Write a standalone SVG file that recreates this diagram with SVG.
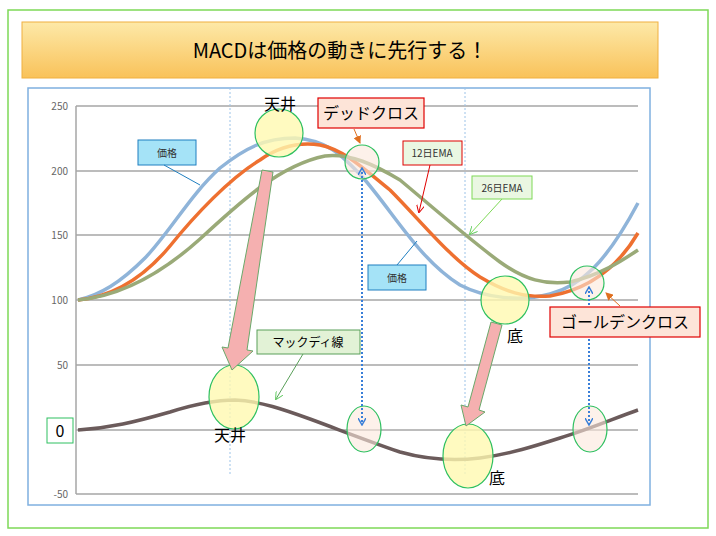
<svg xmlns="http://www.w3.org/2000/svg" width="716" height="536" viewBox="0 0 716 536">
<defs>
<linearGradient id="tg" x1="0" y1="0" x2="0" y2="1"><stop offset="0" stop-color="#fde9a8"/><stop offset="1" stop-color="#f9c25a"/></linearGradient>
<marker id="ar" markerWidth="8" markerHeight="8" refX="7" refY="4" orient="auto" markerUnits="userSpaceOnUse"><path d="M0,0 L8,4 L0,8 z" fill="#e07020"/></marker>
<marker id="arr" markerWidth="8" markerHeight="8" refX="7" refY="4" orient="auto" markerUnits="userSpaceOnUse"><path d="M0,0 L8,4 L0,8" fill="none" stroke="#e00000"/></marker>
<marker id="arg" markerWidth="8" markerHeight="8" refX="7" refY="4" orient="auto" markerUnits="userSpaceOnUse"><path d="M0,0 L8,4 L0,8" fill="none" stroke="#6c6"/></marker>
<marker id="arb" markerWidth="8" markerHeight="8" refX="7" refY="4" orient="auto-start-reverse" markerUnits="userSpaceOnUse"><path d="M0,0 L7,4 L0,8" fill="none" stroke="#3a7fd8" stroke-width="1.5"/></marker>
</defs>
<style>
text{font-family:"Noto Sans CJK JP","Liberation Sans",sans-serif}
.grid{stroke:#a6a6a6;stroke-width:1.5}
.ax{font-size:10px;fill:#666;text-anchor:end}
.big{font-size:16px;fill:#000}
.sm{font-size:10px;fill:#333;text-anchor:middle}
.curve{fill:none;stroke-width:3.5;stroke-linejoin:round}
.yc{fill:#fff9b0;fill-opacity:.8;stroke:#2ec060;stroke-width:1.2}
.pc{fill:#fbe8dc;fill-opacity:.6;stroke:#2ec060;stroke-width:1.2}
.thin{stroke:#9cc3e8;stroke-width:1;stroke-dasharray:2,2}
.bd{stroke:#3a7fd8;stroke-width:2;stroke-dasharray:2,2}
.pa{fill:#f5b0b0;stroke:#6aa86a;stroke-width:1}
</style>
<rect x="8" y="10" width="700" height="518" fill="#fff" stroke="#7ed957" stroke-width="1.5"/>
<g id="title"><rect x="22" y="22" width="636" height="56" fill="url(#tg)" stroke="#f0b040"/><text x="340" y="58" font-size="20" text-anchor="middle">MACDは価格の動きに先行する！</text></g>
<rect x="28" y="88" width="622" height="417" fill="#fff" stroke="#7fb0e0" stroke-width="1.5"/>
<g id="axes">
<line class="grid" x1="76" y1="106" x2="638" y2="106"/><line class="grid" x1="76" y1="171" x2="638" y2="171"/>
<line class="grid" x1="76" y1="235" x2="638" y2="235"/><line class="grid" x1="76" y1="300" x2="638" y2="300"/>
<line class="grid" x1="76" y1="365" x2="638" y2="365"/><line class="grid" x1="76" y1="430" x2="638" y2="430"/>
<line class="grid" x1="76" y1="494" x2="638" y2="494"/><line class="grid" x1="76" y1="106" x2="76" y2="494"/>
<text class="ax" x="68" y="110">250</text><text class="ax" x="68" y="175">200</text><text class="ax" x="68" y="239">150</text>
<text class="ax" x="68" y="304">100</text><text class="ax" x="68" y="369">50</text><text class="ax" x="68" y="498">-50</text>
</g>
<g id="connectors">
<line class="thin" x1="230" y1="88" x2="230" y2="475"/><line class="thin" x1="465" y1="88" x2="465" y2="475"/>
</g>
<g id="curves">
<path class="curve" stroke="#8fb4d9" d="M78,300 C100,295 120,283 145,258 C170,232 190,195 220,168 C245,148 265,138 295,138 C325,140 340,152 365,180 C395,215 420,260 460,285 C485,298 520,302 550,294 C580,286 605,265 638,203"/>
<path class="curve" stroke="#ee7030" d="M78,300 C110,297 140,282 170,246 C195,215 230,178 260,160 C280,146 300,142 320,145 C345,150 365,170 390,190 C420,220 450,258 480,277 C505,292 525,298 550,296 C585,290 615,272 638,233"/>
<path class="curve" stroke="#9aaa78" d="M78,300 C120,296 160,275 200,239 C240,202 280,165 325,156 C350,153 375,165 400,180 C430,205 470,240 500,262 C525,280 545,285 570,282 C600,275 620,262 638,250"/>
<path class="curve" stroke="#6b5b5b" d="M78,430 C110,428 135,422 170,412 C195,404 215,400 235,400 C260,401 285,410 310,419 C340,430 365,440 400,452 C425,459 455,461 480,458 C510,454 535,446 560,438 C590,429 615,418 638,410"/>
</g>
<g id="circles">
<circle class="yc" cx="279" cy="133" r="24"/><circle class="pc" cx="362" cy="162" r="17"/>
<circle class="yc" cx="505" cy="300" r="24"/><circle class="pc" cx="587" cy="283" r="17"/>
<ellipse class="yc" cx="234" cy="397" rx="25" ry="32"/><ellipse class="pc" cx="364" cy="429" rx="17" ry="23"/>
<ellipse class="yc" cx="468" cy="456" rx="25" ry="32"/><ellipse class="pc" cx="590" cy="429" rx="17" ry="23"/>
</g>
<g id="blue-arrows">
<line class="bd" x1="362" y1="168" x2="362" y2="425" marker-start="url(#arb)" marker-end="url(#arb)"/>
<line class="bd" x1="589" y1="287" x2="589" y2="425" marker-start="url(#arb)" marker-end="url(#arb)"/>
</g>
<g id="pink-arrows">
<polygon class="pa" points="262,170 273,172 247,350 253,351 232,370 222,347 228,348"/>
<polygon class="pa" points="491,322 502,325 479,410 485,412 466,426 461,405 468,407"/>
</g>
<g id="labels">
<text class="big" x="280" y="110" text-anchor="middle">天井</text>
<g id="dead"><rect x="318" y="98" width="106" height="30" fill="#fde4d8" stroke="#e00000" stroke-width="1.2"/><text x="371" y="119" font-size="16" text-anchor="middle">デッドクロス</text><line x1="354" y1="129" x2="360" y2="143" stroke="#e07020" marker-end="url(#ar)"/></g>
<g id="ema12"><rect x="403" y="141" width="59" height="24" fill="#eaf7e2" stroke="#e00000"/><text class="sm" x="432" y="157">12日EMA</text><line x1="430" y1="165" x2="419" y2="212" stroke="#e00000" marker-end="url(#arr)"/></g>
<g id="ema26"><rect x="472" y="176" width="60" height="23" fill="#eaf7e2" stroke="#7ed957"/><text class="sm" x="502" y="192">26日EMA</text><line x1="502" y1="199" x2="470" y2="234" stroke="#7ed957" marker-end="url(#arg)"/></g>
<g id="price1"><rect x="138" y="140" width="58" height="25" fill="#a5e3f7" stroke="#1f7fc0"/><text class="sm" x="167" y="157">価格</text><line x1="164" y1="165" x2="200" y2="185" stroke="#1f7fc0"/></g>
<g id="price2"><rect x="368" y="265" width="58" height="25" fill="#a5e3f7" stroke="#1f7fc0"/><text class="sm" x="397" y="282">価格</text><line x1="397" y1="265" x2="417" y2="241" stroke="#1f7fc0"/></g>
<text class="big" x="515" y="342" text-anchor="middle">底</text>
<g id="golden"><rect x="550" y="307" width="150" height="30" fill="#fde4d8" stroke="#e00000" stroke-width="1.2"/><text x="625" y="328" font-size="16" text-anchor="middle">ゴールデンクロス</text><line x1="620" y1="306" x2="606" y2="293" stroke="#e07020" marker-end="url(#ar)"/></g>
<g id="macd"><rect x="257" y="330" width="103" height="24" fill="#e2f2d6" stroke="#5aa05a"/><text x="308" y="347" font-size="12" text-anchor="middle">マックディ線</text><line x1="303" y1="354" x2="276" y2="399" stroke="#5aa05a" marker-end="url(#arg)"/></g>
<text class="big" x="230" y="441" text-anchor="middle">天井</text>
<text class="big" x="497" y="484" text-anchor="middle">底</text>
<g id="zero"><rect x="47" y="418" width="26" height="25" fill="#fff" stroke="#2ec060"/><text x="60" y="437" font-size="16" text-anchor="middle">0</text></g>
</g>
</svg>
